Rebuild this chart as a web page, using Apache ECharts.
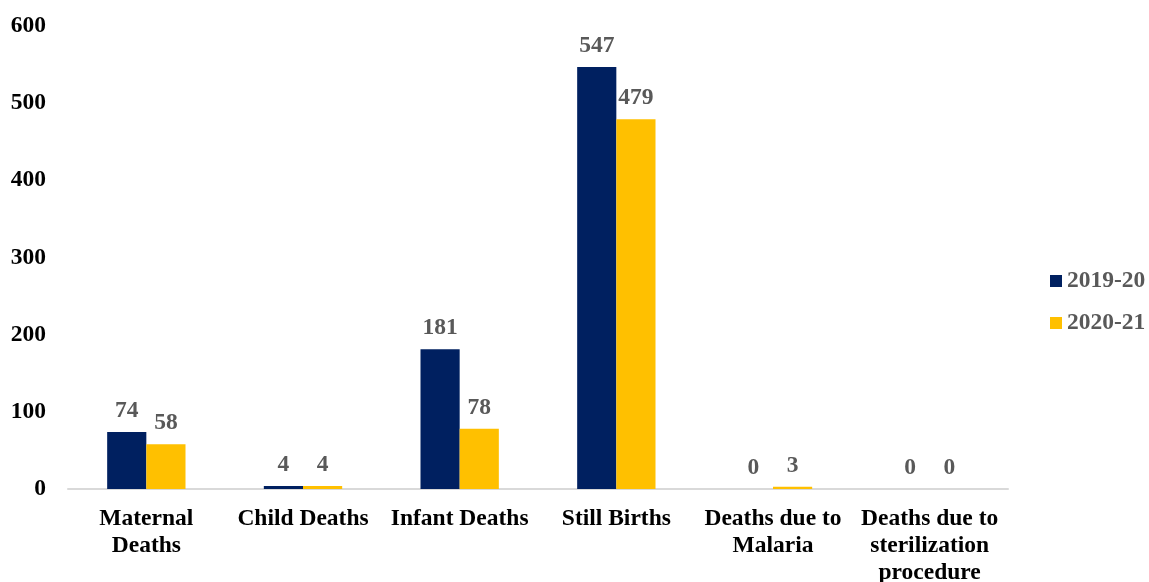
<!DOCTYPE html>
<html>
<head>
<meta charset="utf-8">
<script src="https://cdn.jsdelivr.net/npm/echarts@6/dist/echarts.min.js"></script>
<style>
  html, body { margin: 0; padding: 0; background: #fff; }
  #chart { width: 1149px; height: 582px; }
</style>
</head>
<body>
<div id="chart"></div>
<script>
const categories = ['Maternal\nDeaths', 'Child Deaths', 'Infant Deaths', 'Still Births', 'Deaths due to\nMalaria', 'Deaths due to\nsterilization\nprocedure']
const series2019 = [74, 4, 181, 547, 0, 0]
const series2020 = [58, 4, 78, 479, 3, 0]
const yTicks = [0, 100, 200, 300, 400, 500, 600]

const font = 'Liberation Serif, Times New Roman, serif'
const fontSize = 23.5
const labelStyle = {
  show: true,
  position: 'top',
  distance: 9,
  color: '#595959',
  fontFamily: font,
  fontWeight: 'bold',
  fontSize: fontSize
}

const myChart = echarts.init(document.getElementById('chart'))
myChart.setOption({
  animation: false,
  textStyle: { fontFamily: font },
  grid: { left: 68, right: 141, top: 26, bottom: 93, outerBoundsMode: 'none', containLabel: false },
  legend: {
    orient: 'vertical',
    left: 1045,
    top: 264,
    itemWidth: 12,
    itemHeight: 12,
    itemGap: 18,
    icon: 'rect',
    textStyle: { color: '#595959', fontFamily: font, fontWeight: 'bold', fontSize: fontSize },
    data: ['2019-20', '2020-21']
  },
  xAxis: {
    type: 'category',
    data: categories,
    axisLine: { lineStyle: { color: '#d9d9d9', width: 2 } },
    axisTick: { show: false },
    axisLabel: {
      interval: 0,
      margin: 16,
      color: '#000',
      fontFamily: font,
      fontWeight: 'bold',
      fontSize: fontSize,
      lineHeight: 27
    }
  },
  yAxis: {
    type: 'value',
    min: yTicks[0],
    max: yTicks[yTicks.length - 1],
    interval: 100,
    splitLine: { show: false },
    axisLine: { show: false },
    axisTick: { show: false },
    axisLabel: {
      margin: 22,
      color: '#000',
      fontFamily: font,
      fontWeight: 'bold',
      fontSize: fontSize
    }
  },
  series: [
    {
      name: '2019-20',
      type: 'bar',
      data: series2019,
      barGap: '0%',
      barCategoryGap: '50%',
      itemStyle: { color: '#002060' },
      label: labelStyle
    },
    {
      name: '2020-21',
      type: 'bar',
      data: series2020,
      itemStyle: { color: '#FFC000' },
      label: labelStyle
    }
  ]
})
</script>
</body>
</html>
